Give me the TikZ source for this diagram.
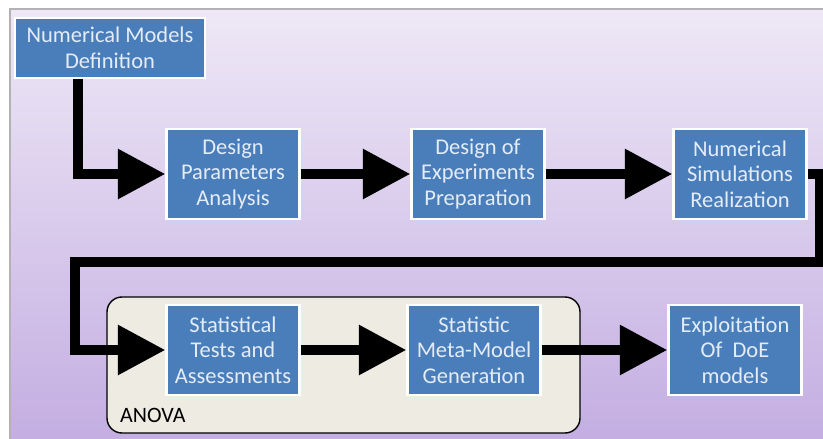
\documentclass[tikz,border=0pt]{standalone}
\usepackage{fontspec}
\setmainfont{Carlito}
\usetikzlibrary{positioning, arrows.meta, shadows}
\definecolor{boxblue}{HTML}{4A7EBB}
\definecolor{boxtext}{HTML}{E4ECF7}
\definecolor{bgtop}{HTML}{EEE8F6}
\definecolor{bgbottom}{HTML}{C4AEE2}
\definecolor{anovafill}{HTML}{EEEBE3}
\tikzset{
    stepbox/.style={rectangle, fill=boxblue, draw=white, line width=1.5pt, text=boxtext, align=center,
        minimum width=2.65cm, minimum height=1.8cm, inner sep=2pt, font=\fontsize{12.8}{14.6}\selectfont,
        drop shadow={shadow xshift=0.7pt, shadow yshift=-0.7pt, opacity=0.3}},
    flow/.style={line width=5.9pt, -{Triangle[length=0.95cm,width=0.95cm]}},
    anovabox/.style={draw=black, line width=0.8pt, fill=anovafill, rounded corners=0.3cm},
    node distance=1.5
}

\begin{document}
\begin{tikzpicture}[node distance=5cm,on grid, auto]
  \useasboundingbox (0,0) rectangle (16.46,8.78);
  \shade[top color=bgtop, bottom color=bgbottom] (0.2,0) rectangle (16.46,8.6);
  \draw[black!30, line width=0.6pt] (0.2,0) -- (0.2,8.6) -- (16.46,8.6);
  \draw[anovabox] (2.14,0.12) rectangle (11.6,2.84);
  \node[anchor=base west, font=\fontsize{12.5}{14}\selectfont] (anova) at (2.28,0.32) {ANOVA};

  \node[stepbox, minimum width=3.8cm, minimum height=1.2cm] (nmd) at (2.2,7.82) {Numerical Models\\Definition};
  \node[stepbox] (dpa) at (4.66,5.3) {Design\\Parameters\\Analysis};
  \node[stepbox, right = 4.9cm of dpa] (doe) {Design of\\Experiments\\Preparation};
  \node[stepbox, right = 5.24cm of doe] (nsr) {Numerical\\Simulations\\Realization};
  \node[stepbox, below = 3.52cm of dpa] (sta) {Statistical\\Tests and\\Assessments};
  \node[stepbox, right = 4.82cm of sta] (smm) {Statistic\\Meta-Model\\Generation};
  \node[stepbox, right = 5.22cm of smm] (exp) {Exploitation\\Of~~DoE\\models};

  \coordinate (loopR) at (16.4,3.54);
  \coordinate (loopL) at (1.5,3.54);

  \draw[flow] ([xshift=-0.64cm]nmd.south) |- (dpa.west);
  \draw[flow] (nsr.east) -| (loopR) -- (loopL) |- (sta.west);
  \draw 
  (dpa) edge[flow] (doe)
  (doe) edge[flow] (nsr)
  (sta) edge[flow] (smm)
  (smm) edge[flow] (exp)
  ;
\end{tikzpicture}
\end{document}
